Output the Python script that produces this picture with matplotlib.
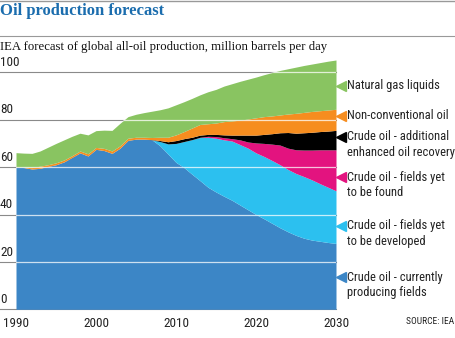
import numpy as np
import matplotlib
matplotlib.use('Agg')
import matplotlib.pyplot as plt
from matplotlib.lines import Line2D
from matplotlib import font_manager as fm

years = np.arange(1990, 2031)

# million barrels per day, one value per year (1990-2030)
currently_producing = [60.0, 59.8, 59.2, 59.5, 60.3, 61.0, 62.2, 64.0, 66.0, 64.7,
                       67.5, 67.0, 65.8, 68.0, 71.3, 71.8, 71.8, 71.5, 69.0, 65.5,
                       62.0, 59.8, 57.0, 54.3, 51.5, 49.5, 47.7, 46.0, 44.0, 42.0,
                       40.0, 38.2, 36.3, 34.4, 32.7, 31.2, 30.0, 29.2, 28.7, 28.2,
                       27.8]
yet_to_be_developed = [0.0, 0.0, 0.0, 0.0, 0.0, 0.0, 0.0, 0.0, 0.0, 0.0,
                       0.0, 0.0, 0.0, 0.0, 0.0, 0.0, 0.0, 0.0, 1.8, 4.3,
                       8.0, 11.0, 14.6, 18.2, 21.1, 22.7, 23.8, 25.0, 25.5, 26.0,
                       26.0, 26.3, 26.5, 26.6, 26.3, 26.1, 26.0, 25.4, 24.3, 23.3,
                       22.2]
yet_to_be_found = [0.0, 0.0, 0.0, 0.0, 0.0, 0.0, 0.0, 0.0, 0.0, 0.0,
                   0.0, 0.0, 0.0, 0.0, 0.0, 0.0, 0.0, 0.0, 0.0, 0.0,
                   0.0, 0.0, 0.0, 0.1, 0.4, 0.7, 0.9, 1.0, 2.0, 2.6,
                   4.2, 5.5, 6.9, 8.3, 9.0, 10.0, 11.2, 12.6, 14.3, 15.8,
                   17.3]
enhanced_recovery = [0.0, 0.0, 0.0, 0.0, 0.0, 0.0, 0.0, 0.1, 0.0, 0.0,
                     0.0, 0.0, 0.0, 0.0, 0.0, 0.0, 0.0, 0.1, 0.4, 0.9,
                     1.2, 1.2, 1.0, 0.9, 0.8, 0.9, 1.2, 1.5, 2.0, 2.9,
                     3.3, 3.8, 4.4, 5.2, 6.6, 7.0, 7.3, 7.5, 7.7, 7.9,
                     8.2]
non_conventional = [0.0, 0.1, 0.6, 0.9, 0.7, 0.8, 0.8, 0.7, 0.8, 0.9,
                    0.8, 0.9, 1.0, 1.0, 0.9, 0.8, 0.8, 0.9, 1.4, 1.9,
                    2.4, 3.0, 3.9, 4.5, 4.5, 4.8, 5.6, 6.0, 6.3, 6.8,
                    7.3, 7.5, 7.5, 7.5, 7.8, 8.4, 8.6, 8.8, 8.8, 8.9,
                    8.9]
natural_gas_liquids = [6.1, 6.0, 6.0, 6.4, 7.4, 8.2, 8.5, 8.2, 7.5, 8.0,
                       7.1, 7.7, 8.7, 9.5, 9.1, 9.7, 10.4, 11.1, 11.6, 12.4,
                       12.7, 12.6, 12.5, 12.5, 13.5, 14.2, 15.0, 15.7, 16.4, 16.8,
                       17.2, 17.7, 18.3, 18.8, 19.1, 19.5, 19.8, 20.0, 20.3, 20.6,
                       20.8]

series = [currently_producing, yet_to_be_developed, yet_to_be_found,
          enhanced_recovery, non_conventional, natural_gas_liquids]
colors = ['#3c86c6', '#2cc0ef', '#e3137f', '#000000', '#f68d1f', '#89c461']
labels = ['Crude oil - currently\nproducing fields',
          'Crude oil - fields yet\nto be developed',
          'Crude oil - fields yet\nto be found',
          'Crude oil - additional\nenhanced oil recovery',
          'Non-conventional oil',
          'Natural gas liquids']
# label anchor (figure pixels from top) for each legend entry
label_tops = [277, 226, 177, 137, 115.5, 86]

# pick a narrow sans if one is around, otherwise shrink the regular one
installed = {(f.name, f.stretch) for f in fm.fontManager.ttflist}
names = {n for n, _ in installed}
sans_kw = None
for cand in ['Roboto Condensed', 'Liberation Sans Narrow', 'Open Sans Condensed',
             'Noto Sans Condensed', 'DejaVu Sans Condensed']:
    if cand in names:
        sans_kw = dict(family=cand)
        break
if sans_kw is None:
    for n, st in installed:
        if n in ('DejaVu Sans', 'Noto Sans', 'Open Sans') and 'condensed' in str(st):
            sans_kw = dict(family=n, stretch=st)
            break
narrow = sans_kw is not None
if not narrow:
    sans_kw = dict(family=['Liberation Sans', 'DejaVu Sans'])
fs_leg = 9.0 if narrow else 7.9
fs_tick = 9.5 if narrow else 8.4

serif = ['Liberation Serif', 'DejaVu Serif']

W, H = 455, 338
fig = plt.figure(figsize=(W / 100, H / 100), dpi=100)
ax = fig.add_axes([16 / W, (H - 309.3) / H, 320 / W, 251.2 / H])
ax.set_xlim(1990, 2030)
ax.set_ylim(0, 106)
ax.axis('off')

# grey guide lines over the whole width, including the label gutter
for v in [0, 20, 40, 60, 80, 100]:
    ax.plot([1988, 2030], [v, v], color='#8a8a8a', lw=0.8, zorder=0, clip_on=False)

base = np.zeros(len(years))
for vals, c in zip(series, colors):
    top = base + np.array(vals)
    ax.fill_between(years, base, top, color=c, lw=0, zorder=2)
    base = top

# white guide lines where they pass over the filled areas
outline = ax.fill_between(years, 0, base, color='none', lw=0, zorder=1)
for v in [20, 40, 60, 80, 100]:
    ln, = ax.plot([1990, 2030], [v, v], color='white', lw=0.9, alpha=0.75, zorder=3)
    ln.set_clip_path(outline.get_paths()[0], ax.transData)

for v in [0, 20, 40, 60, 80, 100]:
    ax.text(1988, v + 1.4, str(v), ha='left', va='bottom', fontsize=fs_tick,
            color='#222222', **sans_kw)
for yr in [1990, 2000, 2010, 2020, 2030]:
    ax.text(yr, -3.2, str(yr), ha='center', va='top', fontsize=fs_tick,
            color='#222222', **sans_kw)

# header
fig.add_artist(Line2D([0, 1], [1 - 0.5 / H, 1 - 0.5 / H], color='#999999', lw=1))
fig.add_artist(Line2D([0, 1], [1 - 36 / H, 1 - 36 / H], color='#999999', lw=0.8))
fig.text(0, 1 - 11 / H, 'Oil production forecast', fontsize=12, fontweight='bold',
         family=serif, color='#1b6dae', ha='left', va='center')
fig.text(0, 1 - 47 / H, 'IEA forecast of global all-oil production, million barrels per day',
         fontsize=9.2, family=serif, color='#111111', ha='left', va='center')

# legend at the right end of the areas
for c, lab, py in zip(colors, labels, label_tops):
    fig.add_artist(Line2D([341 / W], [1 - py / H], marker='<', markersize=6.5,
                          color=c, lw=0))
    fig.text(347 / W, 1 - (py - 6.5) / H, lab, fontsize=fs_leg,
             color='#222222', ha='left', va='top', linespacing=1.25, **sans_kw)

fig.text(1 - 1 / W, 1 - 322 / H, 'SOURCE: IEA', fontsize=6.8,
         color='#222222', ha='right', va='center', **sans_kw)

fig.savefig('out.png', dpi=100)
